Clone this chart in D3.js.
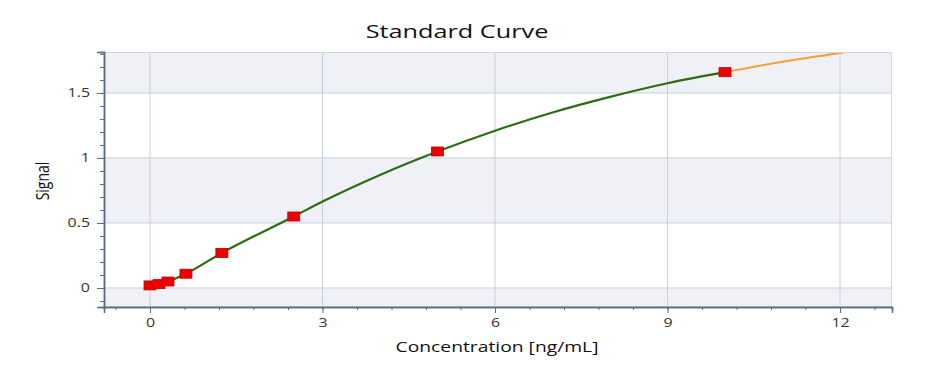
<!DOCTYPE html>
<html><head><meta charset="utf-8">
<script src="https://cdn.jsdelivr.net/npm/d3@7"></script>
<style>body{margin:0;background:#fff;}text{font-family:"Open Sans","Noto Sans",sans-serif;}</style>
</head><body><svg id="c" width="941" height="375"></svg>
<script>
const stdConc = [0, 0.156, 0.3125, 0.625, 1.25, 2.5, 5, 10];
const stdSignal = [0.02, 0.03, 0.05, 0.11, 0.27, 0.55, 1.05, 1.66];
const fitConc = [0, 0.3125, 0.625, 1.25, 2.5, 3, 4, 5, 6, 7, 8, 9, 10];
const fitSignal = [0.02, 0.05, 0.11, 0.27, 0.55, 0.665, 0.87, 1.05, 1.21, 1.35, 1.47, 1.575, 1.66];
const extConc = [10, 11, 12.2, 13];
const extSignal = [1.66, 1.74, 1.82, 1.87];
const xTicks = [0, 3, 6, 9, 12];
const yTicks = [0, 0.5, 1, 1.5];
const yBands = [[-0.2, 0], [0.5, 1], [1.5, 2]];

const S = 1.33; // horizontal text stretch seen in the reference
const svg = d3.select("#c");
const L = 104, R = 892, T = 52, B = 307;
const x = d3.scaleLinear().domain([-0.8, 12.904]).range([L, R]);
const y = d3.scaleLinear().domain([-0.146, 1.815]).range([B, T]);

svg.append("defs").append("clipPath").attr("id", "clip")
  .append("rect").attr("x", L).attr("y", T).attr("width", R - L).attr("height", B - T);

const plot = svg.append("g").attr("clip-path", "url(#clip)");
plot.selectAll("rect.band").data(yBands).join("rect")
  .attr("x", L).attr("width", R - L)
  .attr("y", d => y(d[1])).attr("height", d => y(d[0]) - y(d[1]))
  .attr("fill", "#eff1f6");
plot.selectAll("line.vg").data(xTicks).join("line")
  .attr("x1", d => x(d)).attr("x2", d => x(d)).attr("y1", T).attr("y2", B)
  .attr("stroke", "#c9d0dc").attr("stroke-width", 1);
plot.selectAll("line.hg").data(yTicks).join("line")
  .attr("y1", d => y(d)).attr("y2", d => y(d)).attr("x1", L).attr("x2", R)
  .attr("stroke", "#c9d0dc").attr("stroke-width", 1);
svg.append("rect").attr("x", L + 0.5).attr("y", T + 0.5).attr("width", R - L - 1).attr("height", B - T - 1)
  .attr("fill", "none").attr("stroke", "#d3d8e2");

const line = d3.line().x(d => x(d[0])).y(d => y(d[1])).curve(d3.curveMonotoneX);
plot.append("path").datum(d3.zip(extConc, extSignal)).attr("d", line)
  .attr("fill", "none").attr("stroke", "#f5a035").attr("stroke-width", 2);
plot.append("path").datum(d3.zip(fitConc, fitSignal)).attr("d", line)
  .attr("fill", "none").attr("stroke", "#2f6b12").attr("stroke-width", 2.2);

const mw = 12, mh = 9;
plot.selectAll("rect.pt").data(d3.zip(stdConc, stdSignal)).join("rect")
  .attr("x", d => x(d[0]) - mw / 2).attr("y", d => y(d[1]) - mh / 2)
  .attr("width", mw).attr("height", mh)
  .attr("fill", "#ee0000").attr("stroke", "#c00000").attr("stroke-width", 0.8);

const axisColor = "#5b6b80";
const xMinor = d3.range(-0.6, 12.9, 0.6).map(v => Math.round(v * 10) / 10);
const yMinor = d3.range(-0.1, 1.81, 0.1).map(v => Math.round(v * 10) / 10);
const gx = svg.append("g").attr("transform", `translate(0,${B})`);
gx.call(d3.axisBottom(x).tickValues(xMinor).tickSize(3).tickFormat(""));
gx.append("g").call(d3.axisBottom(x).tickValues(xTicks).tickSize(6).tickPadding(5).tickFormat(d3.format("d")));
gx.selectAll("path.domain").attr("stroke", axisColor).attr("stroke-width", 1.5);
gx.selectAll("line").attr("stroke", axisColor);
gx.selectAll("text").attr("fill", "#333").style("font-size", "12px").attr("transform", `scale(${S},1)`);

const gy = svg.append("g").attr("transform", `translate(${L},0)`);
gy.call(d3.axisLeft(y).tickValues(yMinor).tickSize(4).tickFormat(""));
gy.append("g").call(d3.axisLeft(y).tickValues(yTicks).tickSize(7).tickPadding(7).tickFormat(d => String(d)));
gy.selectAll("path.domain").attr("stroke", axisColor).attr("stroke-width", 1.5);
gy.selectAll("line").attr("stroke", axisColor);
gy.selectAll("text").attr("fill", "#333").style("font-size", "12px")
  .attr("transform", function () { const xa = +this.getAttribute("x"); return `translate(${xa},0) scale(${S},1) translate(${-xa},0)`; });

svg.append("text").attr("transform", `translate(457,38) scale(${S},1)`).attr("text-anchor", "middle")
  .style("font-size", "19px").attr("fill", "#111").text("Standard Curve");
svg.append("text").attr("transform", `translate(497,352) scale(${S},1)`).attr("text-anchor", "middle")
  .style("font-size", "14.5px").attr("fill", "#111").text("Concentration [ng/mL]");
svg.append("text").attr("transform", `translate(49,181) rotate(-90) scale(1,${S})`).attr("text-anchor", "middle")
  .style("font-size", "14px").attr("fill", "#111").text("Signal");
</script></body></html>
